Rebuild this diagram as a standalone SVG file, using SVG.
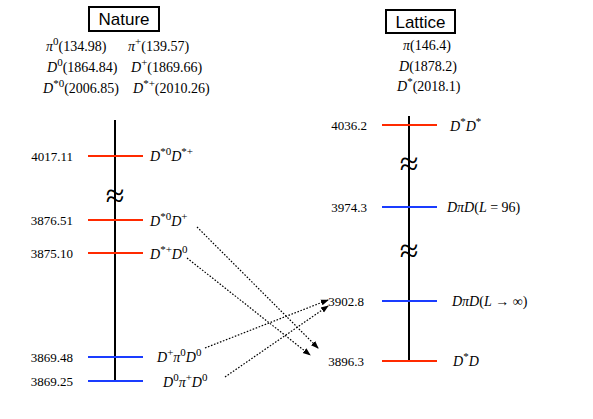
<svg xmlns="http://www.w3.org/2000/svg" width="593" height="419" viewBox="0 0 593 419">
<style>
text{font-family:"Liberation Serif","DejaVu Serif",serif;font-size:14px;fill:#000}
.i{font-style:italic}
.s{font-size:11px}
.h{font-family:"Liberation Sans","DejaVu Sans",sans-serif;font-size:17px}
.num{text-anchor:end;font-size:13px}
.axis{stroke:#000;stroke-width:2}
.red{stroke:#ff2a00;stroke-width:2.2}
.blue{stroke:#1a3cff;stroke-width:2.2}
.arr{stroke:#000;stroke-width:1.2;stroke-dasharray:1.6 1.6;fill:none;marker-end:url(#ah)}
.sq{font-size:34px;text-anchor:middle}
</style>
<defs>
<marker id="ah" markerWidth="8" markerHeight="8" refX="7" refY="4" orient="auto" markerUnits="userSpaceOnUse">
<path d="M0,1 L8,4 L0,7 Z" fill="#000"/>
</marker>
</defs>
<g id="nature-header">
<rect x="89" y="7" width="70" height="24" fill="#fff" stroke="#000" stroke-width="2"/>
<text class="h" x="124" y="25" text-anchor="middle">Nature</text>
<text x="46" y="51"><tspan class="i">π</tspan><tspan class="s" dy="-6">0</tspan><tspan dy="6">(134.98)</tspan></text>
<text x="128" y="51"><tspan class="i">π</tspan><tspan class="s" dy="-6">+</tspan><tspan dy="6">(139.57)</tspan></text>
<text x="47" y="72"><tspan class="i">D</tspan><tspan class="s" dy="-6">0</tspan><tspan dy="6">(1864.84)</tspan></text>
<text x="131" y="72"><tspan class="i">D</tspan><tspan class="s" dy="-6">+</tspan><tspan dy="6">(1869.66)</tspan></text>
<text x="43" y="93"><tspan class="i">D</tspan><tspan class="s" dy="-6">*0</tspan><tspan dy="6">(2006.85)</tspan></text>
<text x="133" y="93"><tspan class="i">D</tspan><tspan class="s" dy="-6">*+</tspan><tspan dy="6">(2010.26)</tspan></text>
</g>
<g id="lattice-header">
<rect x="386" y="10" width="69" height="23" fill="#fff" stroke="#000" stroke-width="2"/>
<text class="h" x="420.5" y="28" text-anchor="middle">Lattice</text>
<text x="403" y="50"><tspan class="i">π</tspan>(146.4)</text>
<text x="399" y="71"><tspan class="i">D</tspan>(1878.2)</text>
<text x="397" y="91"><tspan class="i">D</tspan><tspan class="s" dy="-6">*</tspan><tspan dy="6">(2018.1)</tspan></text>
</g>
<g id="nature-axis">
<line class="axis" x1="115" y1="120" x2="115" y2="381"/>
<text class="sq" x="115" y="207">≈</text>
</g>
<g id="n4017">
<line class="red" x1="88" y1="156" x2="143" y2="156"/>
<text class="num" x="73" y="161">4017.11</text>
<text x="150" y="161"><tspan class="i">D</tspan><tspan class="s" dy="-6">*0</tspan><tspan class="i" dy="6">D</tspan><tspan class="s" dy="-6">*+</tspan></text>
</g>
<g id="n387651">
<line class="red" x1="88" y1="220" x2="143" y2="220"/>
<text class="num" x="73" y="225">3876.51</text>
<text x="150" y="226"><tspan class="i">D</tspan><tspan class="s" dy="-6">*0</tspan><tspan class="i" dy="6">D</tspan><tspan class="s" dy="-6">+</tspan></text>
</g>
<g id="n387510">
<line class="red" x1="88" y1="253" x2="143" y2="253"/>
<text class="num" x="73" y="258">3875.10</text>
<text x="150" y="259"><tspan class="i">D</tspan><tspan class="s" dy="-6">*+</tspan><tspan class="i" dy="6">D</tspan><tspan class="s" dy="-6">0</tspan></text>
</g>
<g id="n386948">
<line class="blue" x1="88" y1="357" x2="143" y2="357"/>
<text class="num" x="73" y="362">3869.48</text>
<text x="157" y="362"><tspan class="i">D</tspan><tspan class="s" dy="-6">+</tspan><tspan class="i" dy="6">π</tspan><tspan class="s" dy="-6">0</tspan><tspan class="i" dy="6">D</tspan><tspan class="s" dy="-6">0</tspan></text>
</g>
<g id="n386925">
<line class="blue" x1="88" y1="381" x2="143" y2="381"/>
<text class="num" x="73" y="386">3869.25</text>
<text x="163" y="387"><tspan class="i">D</tspan><tspan class="s" dy="-6">0</tspan><tspan class="i" dy="6">π</tspan><tspan class="s" dy="-6">+</tspan><tspan class="i" dy="6">D</tspan><tspan class="s" dy="-6">0</tspan></text>
</g>
<g id="lattice-axis">
<line class="axis" x1="409" y1="116" x2="409" y2="361"/>
<text class="sq" x="409" y="175">≈</text>
<text class="sq" x="409" y="262">≈</text>
</g>
<g id="l4036">
<line class="red" x1="382" y1="125" x2="437" y2="125"/>
<text class="num" x="367" y="130">4036.2</text>
<text x="450" y="131"><tspan class="i">D</tspan><tspan class="s" dy="-6">*</tspan><tspan class="i" dy="6">D</tspan><tspan class="s" dy="-6">*</tspan></text>
</g>
<g id="l3974">
<line class="blue" x1="382" y1="207" x2="437" y2="207"/>
<text class="num" x="367" y="212">3974.3</text>
<text x="447" y="212"><tspan class="i">DπD</tspan>(<tspan class="i">L</tspan> = 96)</text>
</g>
<g id="l3902">
<line class="blue" x1="382" y1="301" x2="437" y2="301"/>
<text class="num" x="364" y="306">3902.8</text>
<text x="452" y="306"><tspan class="i">DπD</tspan>(<tspan class="i">L</tspan> → ∞)</text>
</g>
<g id="l3896">
<line class="red" x1="382" y1="361" x2="437" y2="361"/>
<text class="num" x="364" y="366">3896.3</text>
<text x="453" y="366"><tspan class="i">D</tspan><tspan class="s" dy="-6">*</tspan><tspan class="i" dy="6">D</tspan></text>
</g>
<g id="connectors">
<path class="arr" d="M197,227 L318,348"/>
<path class="arr" d="M187,258 L310,355"/>
<path class="arr" d="M205,348 L328,300"/>
<path class="arr" d="M225,377 L328,306"/>
</g>
</svg>
